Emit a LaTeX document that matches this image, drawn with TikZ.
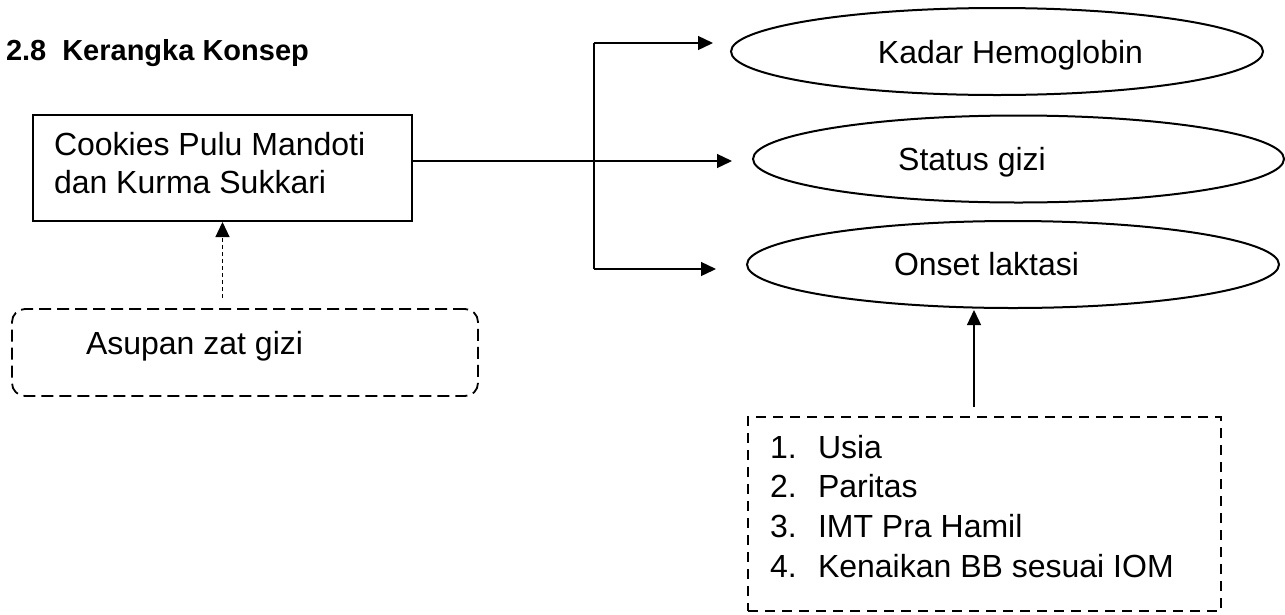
\documentclass[tikz,border=0pt]{standalone}
\usepackage{fontspec}
\setmainfont{Liberation Sans}
\usetikzlibrary{shapes.geometric,arrows.meta}
\begin{document}
\begin{tikzpicture}[x=1pt,y=-1pt,
  every node/.style={inner sep=0pt, outer sep=0pt},
  txt/.style={anchor=base west, font=\fontsize{32}{39}\selectfont},
  ctxt/.style={anchor=base, font=\fontsize{32}{39}\selectfont},
  tipped/.style={-{Triangle[length=15pt,width=14pt]}, line width=1.3pt},
  ovalnode/.style={draw, ellipse, line width=2pt, minimum width=532pt, minimum height=87pt},
  plainbox/.style={draw, line width=1.3pt, minimum width=379pt, minimum height=106pt},
  softbox/.style={draw, dash pattern=on 12pt off 6pt, rounded corners=13pt, line width=1.8pt,
     minimum width=466pt, minimum height=87pt},
  listbox/.style={draw, dash pattern=on 10pt off 7pt, line width=2.2pt,
     minimum width=473pt, minimum height=194pt}
]
\useasboundingbox (0,0) rectangle (1285,614);
% title
\node[anchor=base west, font=\bfseries\fontsize{29}{35}\selectfont] (title) at (6,60) {2.8\hspace{16pt}Kerangka Konsep};
% left boxes
\node[plainbox] (cookies) at (222.5,168) {};
\node[txt] (cookiestext) at (54,155) {Cookies Pulu Mandoti};
\node[txt] (cookiestext2) at (54,193) {dan Kurma Sukkari};
\node[softbox] (asupan) at (245,352.5) {};
\node[txt] (asupantext) at (86,354) {Asupan zat gizi};
% ellipses
\node[ovalnode] (hb) at (997,51.5) {};
\node[ctxt] (hbtext) at (1010.5,63) {Kadar Hemoglobin};
\node[ovalnode, minimum width=531pt] (gizi) at (1018.5,159) {};
\node[ctxt] (gizitext) at (972,170) {Status gizi};
\node[ovalnode] (onset) at (1013,264.5) {};
\node[ctxt] (onsettext) at (986.5,275) {Onset laktasi};
% list box
\node[listbox] (faktor) at (984.5,514) {};
\node[txt] (f1) at (770,458) {1.};
\node[txt] (f1t) at (818,458) {Usia};
\node[txt] (f2) at (770,497.7) {2.};
\node[txt] (f2t) at (818,497.7) {Paritas};
\node[txt] (f3) at (770,537.3) {3.};
\node[txt] (f3t) at (818,537.3) {IMT Pra Hamil};
\node[txt] (f4) at (770,577) {4.};
\node[txt] (f4t) at (818,577) {Kenaikan BB sesuai IOM};
% connectors
\coordinate (branch) at (594,161);
\coordinate (btop) at (594,43);
\coordinate (bbot) at (594,269);
\coordinate (upx) at (974,0);
\draw[line width=1.3pt] (btop) -- (bbot);
\draw[tipped, shorten >=21pt] (cookies.east |- branch) -- (gizi.west |- branch);
\draw[tipped, shorten >=18pt] (btop) -- (hb.west |- btop);
\draw[tipped, shorten >=31pt] (bbot) -- (onset.west |- bbot);
\draw[-{Triangle[length=15pt,width=14pt]}, line width=1.2pt, dash pattern=on 4pt off 3pt, shorten <=11pt, shorten >=1pt]
  (asupan.north -| cookies.south) -- (cookies.south);
\draw[tipped, shorten <=10pt, shorten >=2pt] (faktor.north -| upx) -- (onset.south -| upx);
\end{tikzpicture}
\end{document}
